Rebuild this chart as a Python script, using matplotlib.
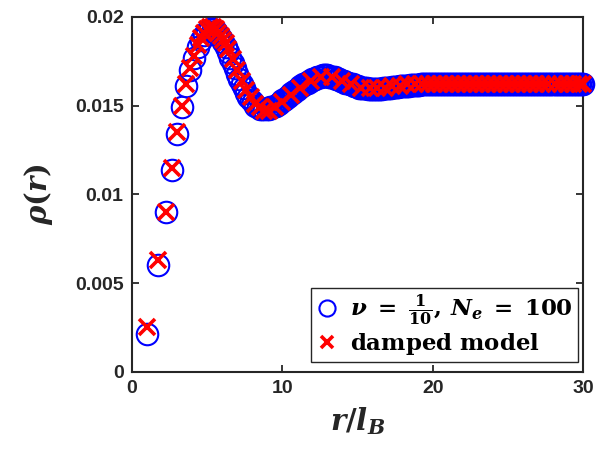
import numpy as np
import matplotlib
matplotlib.use("Agg")
import matplotlib.pyplot as plt

plt.rcParams['font.family'] = ['Liberation Sans', 'DejaVu Sans']
plt.rcParams['mathtext.fontset'] = 'custom'
plt.rcParams['mathtext.rm'] = 'DejaVu Serif:bold'
plt.rcParams['mathtext.bf'] = 'DejaVu Serif:bold'
plt.rcParams['mathtext.it'] = 'DejaVu Serif:italic:bold'

# ---- simulation: nu = 1/10, N_e = 100 (dense radial samples) ----
r_sim = [1.0, 1.7, 2.24, 2.65, 3.0, 3.32, 3.61, 3.87, 4.12, 4.36,
         4.58, 4.8, 5.0, 5.2, 5.39, 5.57, 5.74, 5.92, 6.08, 6.24,
         6.4, 6.55, 6.7, 6.85, 7.0, 7.15, 7.3, 7.45, 7.6, 7.75,
         7.9, 8.05, 8.2, 8.35, 8.5, 8.65, 8.8, 8.95, 9.1,
         9.2, 9.3, 9.4, 9.5, 9.6, 9.7, 9.8, 9.9, 10.0,
         10.1, 10.2, 10.3, 10.4, 10.5, 10.6, 10.7, 10.8, 10.9, 11.0,
         11.1, 11.2, 11.3, 11.4, 11.5, 11.6, 11.7, 11.8, 11.9, 12.0,
         12.1, 12.2, 12.3, 12.4, 12.5, 12.6, 12.7, 12.8, 12.9, 13.0,
         13.1, 13.2, 13.3, 13.4, 13.5, 13.6, 13.7, 13.8, 13.9, 14.0,
         14.1, 14.2, 14.3, 14.4, 14.5, 14.6, 14.7, 14.8, 14.9, 15.0,
         15.1, 15.2, 15.3, 15.4, 15.5, 15.6, 15.7, 15.8, 15.9, 16.0,
         16.1, 16.2, 16.3, 16.4, 16.5, 16.6, 16.7, 16.8, 16.9, 17.0,
         17.1, 17.2, 17.3, 17.4, 17.5, 17.6, 17.7, 17.8, 17.9, 18.0,
         18.1, 18.2, 18.3, 18.4, 18.5, 18.6, 18.7, 18.8, 18.9, 19.0,
         19.1, 19.2, 19.3, 19.4, 19.5, 19.6, 19.7, 19.8, 19.9, 20.0,
         20.1, 20.2, 20.3, 20.4, 20.5, 20.6, 20.7, 20.8, 20.9, 21.0,
         21.1, 21.2, 21.3, 21.4, 21.5, 21.6, 21.7, 21.8, 21.9, 22.0,
         22.1, 22.2, 22.3, 22.4, 22.5, 22.6, 22.7, 22.8, 22.9, 23.0,
         23.1, 23.2, 23.3, 23.4, 23.5, 23.6, 23.7, 23.8, 23.9, 24.0,
         24.1, 24.2, 24.3, 24.4, 24.5, 24.6, 24.7, 24.8, 24.9, 25.0,
         25.1, 25.2, 25.3, 25.4, 25.5, 25.6, 25.7, 25.8, 25.9, 26.0,
         26.1, 26.2, 26.3, 26.4, 26.5, 26.6, 26.7, 26.8, 26.9, 27.0,
         27.1, 27.2, 27.3, 27.4, 27.5, 27.6, 27.7, 27.8, 27.9, 28.0,
         28.1, 28.2, 28.3, 28.4, 28.5, 28.6, 28.7, 28.8, 28.9, 29.0,
         29.1, 29.2, 29.3, 29.4, 29.5, 29.6, 29.7, 29.8, 29.9, 30.0]

rho_sim = [0.00214, 0.0060, 0.0090, 0.0114, 0.0134, 0.0149, 0.0161, 0.0170, 0.0177, 0.0183,
           0.0187, 0.0190, 0.0192, 0.0193, 0.0193, 0.0192, 0.0190, 0.0188, 0.0186, 0.0183,
           0.0180, 0.0177, 0.0174, 0.0171, 0.0168, 0.0165, 0.0162, 0.0160, 0.0157, 0.0155,
           0.0153, 0.0152, 0.0150, 0.0149, 0.0148, 0.0148, 0.0148, 0.0148, 0.0148,
           0.0149, 0.0149, 0.0149, 0.0150, 0.0150, 0.0151, 0.0151, 0.0152, 0.0153,
           0.0153, 0.0154, 0.0155, 0.0155, 0.0156, 0.0157, 0.0157, 0.0158, 0.0159, 0.0159,
           0.0160, 0.0161, 0.0161, 0.0162, 0.0162, 0.0163, 0.0163, 0.0164, 0.0164, 0.0165,
           0.0165, 0.0165, 0.0166, 0.0166, 0.0166, 0.0166, 0.0167, 0.0167, 0.0167, 0.0167,
           0.0166, 0.0166, 0.0166, 0.0166, 0.0166, 0.0165, 0.0165, 0.0165, 0.0164, 0.0164,
           0.0164, 0.0163, 0.0163, 0.0163, 0.0162, 0.0162, 0.0162, 0.0161, 0.0161, 0.0161,
           0.0160, 0.0160, 0.0160, 0.0160, 0.0160, 0.01597, 0.01596, 0.01595, 0.01595, 0.01594,
           0.01594, 0.01594, 0.01594, 0.01595, 0.01595, 0.01596, 0.01597, 0.01598, 0.01599, 0.0160,
           0.01601, 0.01602, 0.01603, 0.01604, 0.01605, 0.01606, 0.01607, 0.01608, 0.01609, 0.0161,
           0.0161, 0.01611, 0.01612, 0.01613, 0.01614, 0.01615, 0.01615, 0.01616, 0.01617, 0.01618,
           0.01618, 0.01619, 0.01619, 0.0162, 0.0162, 0.0162, 0.0162, 0.01621, 0.01621, 0.01621,
           0.01622, 0.01622, 0.01622, 0.01622, 0.01622, 0.01622, 0.01622, 0.01622, 0.01621, 0.01621,
           0.01621, 0.01621, 0.0162, 0.0162, 0.0162, 0.0162, 0.0162, 0.0162, 0.0162, 0.0162,
           0.0162, 0.0162, 0.0162, 0.0162, 0.0162, 0.0162, 0.0162, 0.0162, 0.0162, 0.0162,
           0.0162, 0.0162, 0.0162, 0.0162, 0.0162, 0.0162, 0.0162, 0.0162, 0.0162, 0.0162,
           0.0162, 0.0162, 0.0162, 0.0162, 0.0162, 0.0162, 0.0162, 0.0162, 0.0162, 0.0162,
           0.0162, 0.0162, 0.0162, 0.0162, 0.0162, 0.0162, 0.0162, 0.0162, 0.0162, 0.0162,
           0.0162, 0.0162, 0.0162, 0.0162, 0.0162, 0.0162, 0.0162, 0.0162, 0.0162, 0.0162,
           0.0162, 0.0162, 0.0162, 0.0162, 0.0162, 0.0162, 0.0162, 0.0162, 0.0162, 0.0162,
           0.0162, 0.0162, 0.0162, 0.0162, 0.0162, 0.0162, 0.0162, 0.0162, 0.0162, 0.0162,
           0.0162, 0.0162, 0.0162, 0.0162, 0.0162, 0.0162, 0.0162, 0.0162, 0.0162, 0.0162]

# ---- damped model (coarser samples) ----
r_model = [1.0, 1.7, 2.24, 2.65, 3.0, 3.32, 3.61, 3.87, 4.12, 4.36,
           4.58, 4.8, 5.0, 5.2, 5.39, 5.57, 5.74, 5.92, 6.08, 6.24,
           6.4, 6.7, 7.0, 7.3, 7.6, 7.9, 8.2, 8.5, 8.8, 9.1,
           9.5, 10.0, 10.6, 11.2, 11.9, 12.6, 13.3, 14.0, 14.6, 15.2,
           15.8, 16.3, 16.8, 17.3, 17.8, 18.3, 18.8, 19.3, 19.7, 20.1,
           20.5, 20.9, 21.3, 21.7, 22.1, 22.5, 22.9, 23.3, 23.7, 24.1,
           24.5, 24.9, 25.3, 25.7, 26.1, 26.5, 26.9, 27.3, 27.7, 28.1,
           28.5, 28.9, 29.3, 29.7, 30.0]

rho_model = [0.00254, 0.0063, 0.0090, 0.0115, 0.0135, 0.0150, 0.0162, 0.0171, 0.0178, 0.0184,
             0.0188, 0.0191, 0.0193, 0.0194, 0.0194, 0.0193, 0.0191, 0.0189, 0.0187, 0.0185,
             0.0182, 0.0176, 0.0170, 0.0164, 0.0159, 0.0155, 0.0151, 0.0149, 0.0147, 0.0147,
             0.0149, 0.0152, 0.0156, 0.0160, 0.0164, 0.0166, 0.0166, 0.0164, 0.0162, 0.0160,
             0.0160, 0.0160, 0.0160, 0.0161, 0.0161, 0.0162, 0.0162, 0.0162, 0.0162, 0.0162,
             0.0162, 0.0162, 0.0162, 0.0162, 0.0162, 0.0162, 0.0162, 0.0162, 0.0162, 0.0162,
             0.0162, 0.0162, 0.0162, 0.0162, 0.0162, 0.0162, 0.0162, 0.0162, 0.0162, 0.0162,
             0.0162, 0.0162, 0.0162, 0.0162, 0.0162]

xticks = [0, 10, 20, 30]
yticks = [0, 0.005, 0.01, 0.015, 0.02]
ytick_labels = ['0', '0.005', '0.01', '0.015', '0.02']

fig = plt.figure(figsize=(6.08, 4.49), dpi=100)
ax = fig.add_axes([0.217, 0.1715, 0.742, 0.791])

ax.plot(r_sim, rho_sim, 'o', ls='none', ms=15.5, mfc='none', mec='#0000ff',
        mew=1.5, clip_on=False, zorder=3,
        label=r'$\nu \;=\; \frac{1}{10},\, N_e \;=\; 100$')
ax.plot(r_model, rho_model, 'x', ls='none', ms=12, mec='#ff0000', mew=2.6,
        clip_on=False, zorder=4, label=r'$\mathrm{damped\ model}$')

ax.set_xlim(0, 30)
ax.set_ylim(0, 0.02)
ax.set_xticks(xticks)
ax.set_yticks(yticks)
ax.set_yticklabels(ytick_labels)
ax.tick_params(direction='in', top=True, right=True, length=5, width=1.3,
               labelsize=14, colors='#262626', pad=6)
for lab in ax.get_xticklabels() + ax.get_yticklabels():
    lab.set_fontweight('bold')
for sp in ax.spines.values():
    sp.set_linewidth(1.5)
    sp.set_color('#262626')

ax.set_xlabel(r'$r/l_B$', fontsize=21, color='#262626', labelpad=6)
ax.set_ylabel(r'$\rho(r)$', fontsize=21, color='#262626', labelpad=14)

leg = ax.legend(loc='lower right', bbox_to_anchor=(0.988, 0.028), fontsize=16.5,
                markerscale=0.75, handletextpad=0.5, handlelength=1.0,
                borderpad=0.2, labelspacing=0.15, borderaxespad=0,
                fancybox=False, framealpha=1)
leg.get_frame().set_edgecolor('#262626')
leg.get_frame().set_linewidth(1.0)

fig.savefig('out.png', dpi=100)
